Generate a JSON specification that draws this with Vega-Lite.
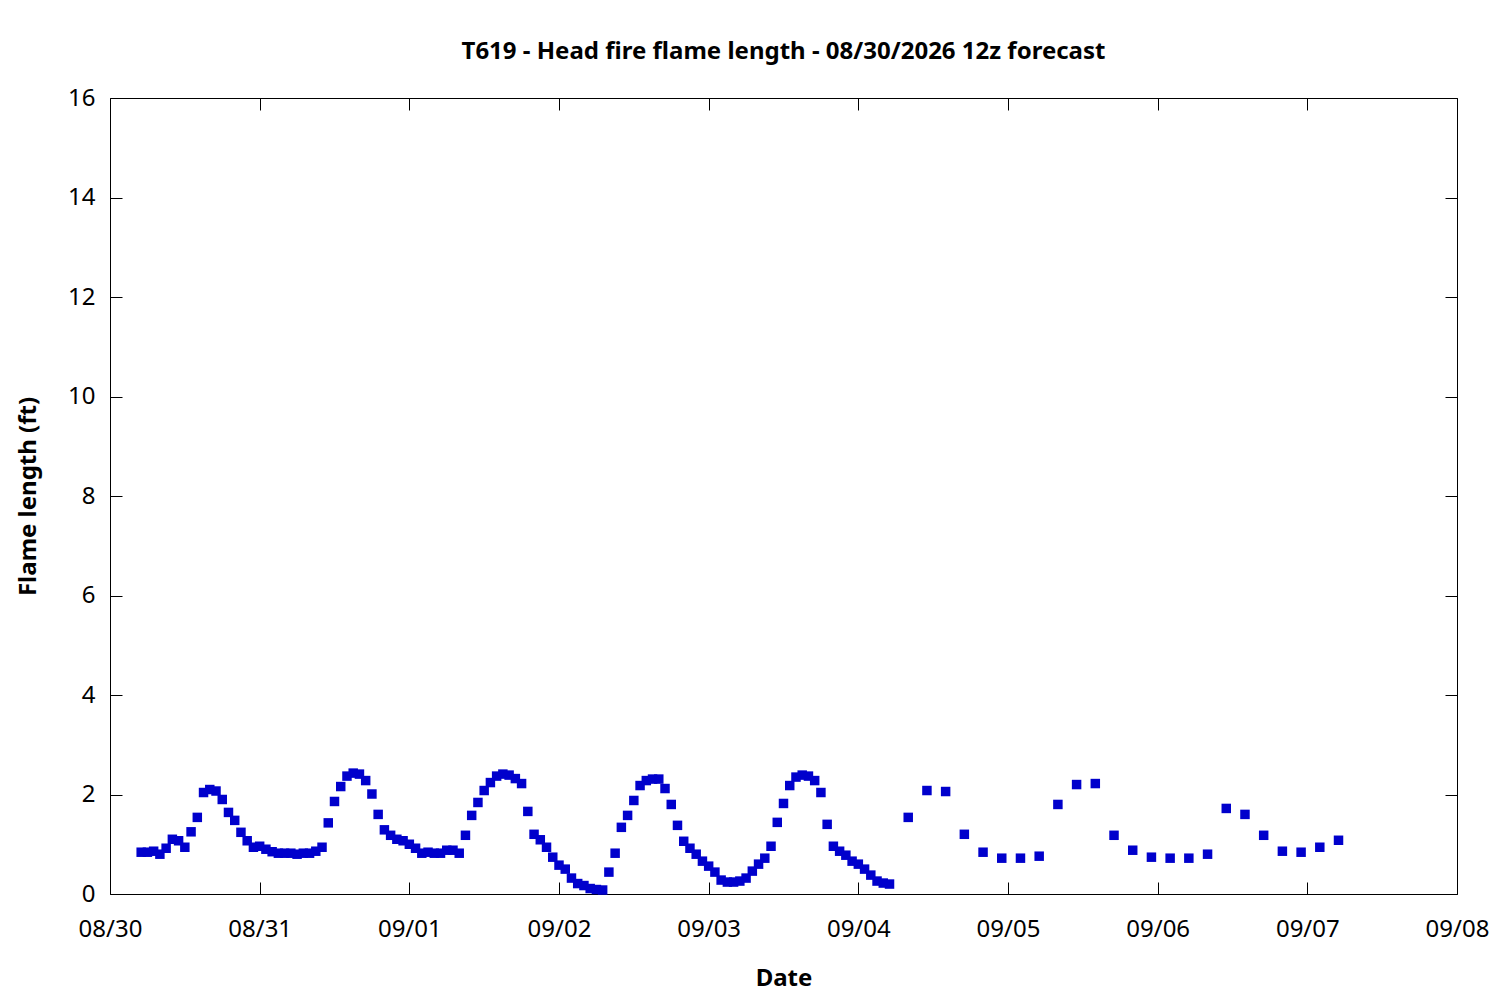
{
  "$schema": "https://vega.github.io/schema/vega-lite/v6.json",
  "autosize": {"type": "none"},
  "width": 1347,
  "height": 796,
  "padding": {"left": 110, "top": 98, "right": 43, "bottom": 106},
  "background": "white",
  "config": {
    "font": "Noto Sans",
    "view": {"stroke": "black", "strokeWidth": 1},
    "axis": {"grid": false, "domainColor": "black", "tickColor": "black", "labelColor": "black", "titleColor": "black", "labelFontSize": 24, "titleFontSize": 24, "titleFontWeight": "bold", "labelFont": "Noto Sans", "titleFont": "Noto Sans"}
  },
  "title": {"text": "T619 - Head fire flame length - 08/30/2026 12z forecast", "fontSize": 24, "fontWeight": "bold", "font": "Noto Sans", "color": "black", "anchor": "middle", "offset": 22},
  "data": {"values": [
    {"t": "2026-08-30T05:00", "v": 0.84}, {"t": "2026-08-30T06:00", "v": 0.84}, {"t": "2026-08-30T07:00", "v": 0.86}, {"t": "2026-08-30T08:00", "v": 0.80},
    {"t": "2026-08-30T09:00", "v": 0.92}, {"t": "2026-08-30T10:00", "v": 1.10}, {"t": "2026-08-30T11:00", "v": 1.07}, {"t": "2026-08-30T12:00", "v": 0.94},
    {"t": "2026-08-30T13:00", "v": 1.25}, {"t": "2026-08-30T14:00", "v": 1.54}, {"t": "2026-08-30T15:00", "v": 2.04}, {"t": "2026-08-30T16:00", "v": 2.10},
    {"t": "2026-08-30T17:00", "v": 2.07}, {"t": "2026-08-30T18:00", "v": 1.90}, {"t": "2026-08-30T19:00", "v": 1.64}, {"t": "2026-08-30T20:00", "v": 1.48},
    {"t": "2026-08-30T21:00", "v": 1.24}, {"t": "2026-08-30T22:00", "v": 1.07}, {"t": "2026-08-30T23:00", "v": 0.94},
    {"t": "2026-08-31T00:00", "v": 0.96}, {"t": "2026-08-31T01:00", "v": 0.90}, {"t": "2026-08-31T02:00", "v": 0.85}, {"t": "2026-08-31T03:00", "v": 0.82},
    {"t": "2026-08-31T04:00", "v": 0.82}, {"t": "2026-08-31T05:00", "v": 0.82}, {"t": "2026-08-31T06:00", "v": 0.80}, {"t": "2026-08-31T07:00", "v": 0.82},
    {"t": "2026-08-31T08:00", "v": 0.82}, {"t": "2026-08-31T09:00", "v": 0.86}, {"t": "2026-08-31T10:00", "v": 0.94}, {"t": "2026-08-31T11:00", "v": 1.43},
    {"t": "2026-08-31T12:00", "v": 1.86}, {"t": "2026-08-31T13:00", "v": 2.16}, {"t": "2026-08-31T14:00", "v": 2.37}, {"t": "2026-08-31T15:00", "v": 2.43},
    {"t": "2026-08-31T16:00", "v": 2.41}, {"t": "2026-08-31T17:00", "v": 2.28}, {"t": "2026-08-31T18:00", "v": 2.01}, {"t": "2026-08-31T19:00", "v": 1.60},
    {"t": "2026-08-31T20:00", "v": 1.29}, {"t": "2026-08-31T21:00", "v": 1.18}, {"t": "2026-08-31T22:00", "v": 1.10}, {"t": "2026-08-31T23:00", "v": 1.07},
    {"t": "2026-09-01T00:00", "v": 1.00}, {"t": "2026-09-01T01:00", "v": 0.92}, {"t": "2026-09-01T02:00", "v": 0.82}, {"t": "2026-09-01T03:00", "v": 0.84},
    {"t": "2026-09-01T04:00", "v": 0.82}, {"t": "2026-09-01T05:00", "v": 0.82}, {"t": "2026-09-01T06:00", "v": 0.88}, {"t": "2026-09-01T07:00", "v": 0.88},
    {"t": "2026-09-01T08:00", "v": 0.82}, {"t": "2026-09-01T09:00", "v": 1.18}, {"t": "2026-09-01T10:00", "v": 1.58}, {"t": "2026-09-01T11:00", "v": 1.84},
    {"t": "2026-09-01T12:00", "v": 2.08}, {"t": "2026-09-01T13:00", "v": 2.24}, {"t": "2026-09-01T14:00", "v": 2.37}, {"t": "2026-09-01T15:00", "v": 2.41},
    {"t": "2026-09-01T16:00", "v": 2.39}, {"t": "2026-09-01T17:00", "v": 2.32}, {"t": "2026-09-01T18:00", "v": 2.22}, {"t": "2026-09-01T19:00", "v": 1.66},
    {"t": "2026-09-01T20:00", "v": 1.20}, {"t": "2026-09-01T21:00", "v": 1.09}, {"t": "2026-09-01T22:00", "v": 0.94}, {"t": "2026-09-01T23:00", "v": 0.74},
    {"t": "2026-09-02T00:00", "v": 0.58}, {"t": "2026-09-02T01:00", "v": 0.50}, {"t": "2026-09-02T02:00", "v": 0.32}, {"t": "2026-09-02T03:00", "v": 0.21},
    {"t": "2026-09-02T04:00", "v": 0.17}, {"t": "2026-09-02T05:00", "v": 0.11}, {"t": "2026-09-02T06:00", "v": 0.09}, {"t": "2026-09-02T07:00", "v": 0.08},
    {"t": "2026-09-02T08:00", "v": 0.44}, {"t": "2026-09-02T09:00", "v": 0.82}, {"t": "2026-09-02T10:00", "v": 1.34}, {"t": "2026-09-02T11:00", "v": 1.58},
    {"t": "2026-09-02T12:00", "v": 1.88}, {"t": "2026-09-02T13:00", "v": 2.18}, {"t": "2026-09-02T14:00", "v": 2.28}, {"t": "2026-09-02T15:00", "v": 2.31},
    {"t": "2026-09-02T16:00", "v": 2.31}, {"t": "2026-09-02T17:00", "v": 2.12}, {"t": "2026-09-02T18:00", "v": 1.80}, {"t": "2026-09-02T19:00", "v": 1.38},
    {"t": "2026-09-02T20:00", "v": 1.06}, {"t": "2026-09-02T21:00", "v": 0.92}, {"t": "2026-09-02T22:00", "v": 0.80}, {"t": "2026-09-02T23:00", "v": 0.66},
    {"t": "2026-09-03T00:00", "v": 0.56}, {"t": "2026-09-03T01:00", "v": 0.44}, {"t": "2026-09-03T02:00", "v": 0.28}, {"t": "2026-09-03T03:00", "v": 0.24},
    {"t": "2026-09-03T04:00", "v": 0.24}, {"t": "2026-09-03T05:00", "v": 0.26}, {"t": "2026-09-03T06:00", "v": 0.32}, {"t": "2026-09-03T07:00", "v": 0.46},
    {"t": "2026-09-03T08:00", "v": 0.60}, {"t": "2026-09-03T09:00", "v": 0.72}, {"t": "2026-09-03T10:00", "v": 0.96}, {"t": "2026-09-03T11:00", "v": 1.44},
    {"t": "2026-09-03T12:00", "v": 1.82}, {"t": "2026-09-03T13:00", "v": 2.18}, {"t": "2026-09-03T14:00", "v": 2.35}, {"t": "2026-09-03T15:00", "v": 2.39},
    {"t": "2026-09-03T16:00", "v": 2.37}, {"t": "2026-09-03T17:00", "v": 2.28}, {"t": "2026-09-03T18:00", "v": 2.04}, {"t": "2026-09-03T19:00", "v": 1.40},
    {"t": "2026-09-03T20:00", "v": 0.96}, {"t": "2026-09-03T21:00", "v": 0.86}, {"t": "2026-09-03T22:00", "v": 0.78}, {"t": "2026-09-03T23:00", "v": 0.66},
    {"t": "2026-09-04T00:00", "v": 0.60}, {"t": "2026-09-04T01:00", "v": 0.50}, {"t": "2026-09-04T02:00", "v": 0.38}, {"t": "2026-09-04T03:00", "v": 0.26},
    {"t": "2026-09-04T04:00", "v": 0.22}, {"t": "2026-09-04T05:00", "v": 0.20},
    {"t": "2026-09-04T08:00", "v": 1.54}, {"t": "2026-09-04T11:00", "v": 2.08}, {"t": "2026-09-04T14:00", "v": 2.06}, {"t": "2026-09-04T17:00", "v": 1.20},
    {"t": "2026-09-04T20:00", "v": 0.84}, {"t": "2026-09-04T23:00", "v": 0.72},
    {"t": "2026-09-05T02:00", "v": 0.72}, {"t": "2026-09-05T05:00", "v": 0.76}, {"t": "2026-09-05T08:00", "v": 1.80}, {"t": "2026-09-05T11:00", "v": 2.20},
    {"t": "2026-09-05T14:00", "v": 2.22}, {"t": "2026-09-05T17:00", "v": 1.18}, {"t": "2026-09-05T20:00", "v": 0.88}, {"t": "2026-09-05T23:00", "v": 0.74},
    {"t": "2026-09-06T02:00", "v": 0.72}, {"t": "2026-09-06T05:00", "v": 0.72}, {"t": "2026-09-06T08:00", "v": 0.80}, {"t": "2026-09-06T11:00", "v": 1.72},
    {"t": "2026-09-06T14:00", "v": 1.60}, {"t": "2026-09-06T17:00", "v": 1.18}, {"t": "2026-09-06T20:00", "v": 0.86}, {"t": "2026-09-06T23:00", "v": 0.84},
    {"t": "2026-09-07T02:00", "v": 0.94}, {"t": "2026-09-07T05:00", "v": 1.08}
  ]},
  "layer": [
    {
      "mark": {"type": "point", "shape": "square", "filled": true, "size": 90, "color": "#0000cc", "opacity": 1},
      "encoding": {
        "x": {"field": "t", "type": "temporal",
              "scale": {"domain": [{"year": 2026, "month": 8, "date": 30}, {"year": 2026, "month": 9, "date": 8}], "nice": false},
              "axis": {"orient": "bottom", "format": "%m/%d", "tickCount": {"interval": "day", "step": 1}, "tickSize": -12, "labelPadding": 35, "title": "Date", "titlePadding": 25, "domain": false, "labelFlush": false}},
        "y": {"field": "v", "type": "quantitative",
              "scale": {"domain": [0, 16], "nice": false},
              "axis": {"orient": "left", "values": [0, 2, 4, 6, 8, 10, 12, 14, 16], "tickSize": -12, "labelPadding": 27, "title": "Flame length (ft)", "titlePadding": 27, "domain": false}}
      }
    },
    {
      "mark": {"type": "point", "opacity": 0},
      "encoding": {
        "x": {"field": "t", "type": "temporal",
              "axis": {"orient": "top", "tickCount": {"interval": "day", "step": 1}, "tickSize": -12, "labels": false, "title": null, "domain": false}},
        "y": {"field": "v", "type": "quantitative",
              "axis": {"orient": "right", "values": [0, 2, 4, 6, 8, 10, 12, 14, 16], "tickSize": -12, "labels": false, "title": null, "domain": false}}
      }
    }
  ],
  "resolve": {"axis": {"x": "independent", "y": "independent"}}
}
